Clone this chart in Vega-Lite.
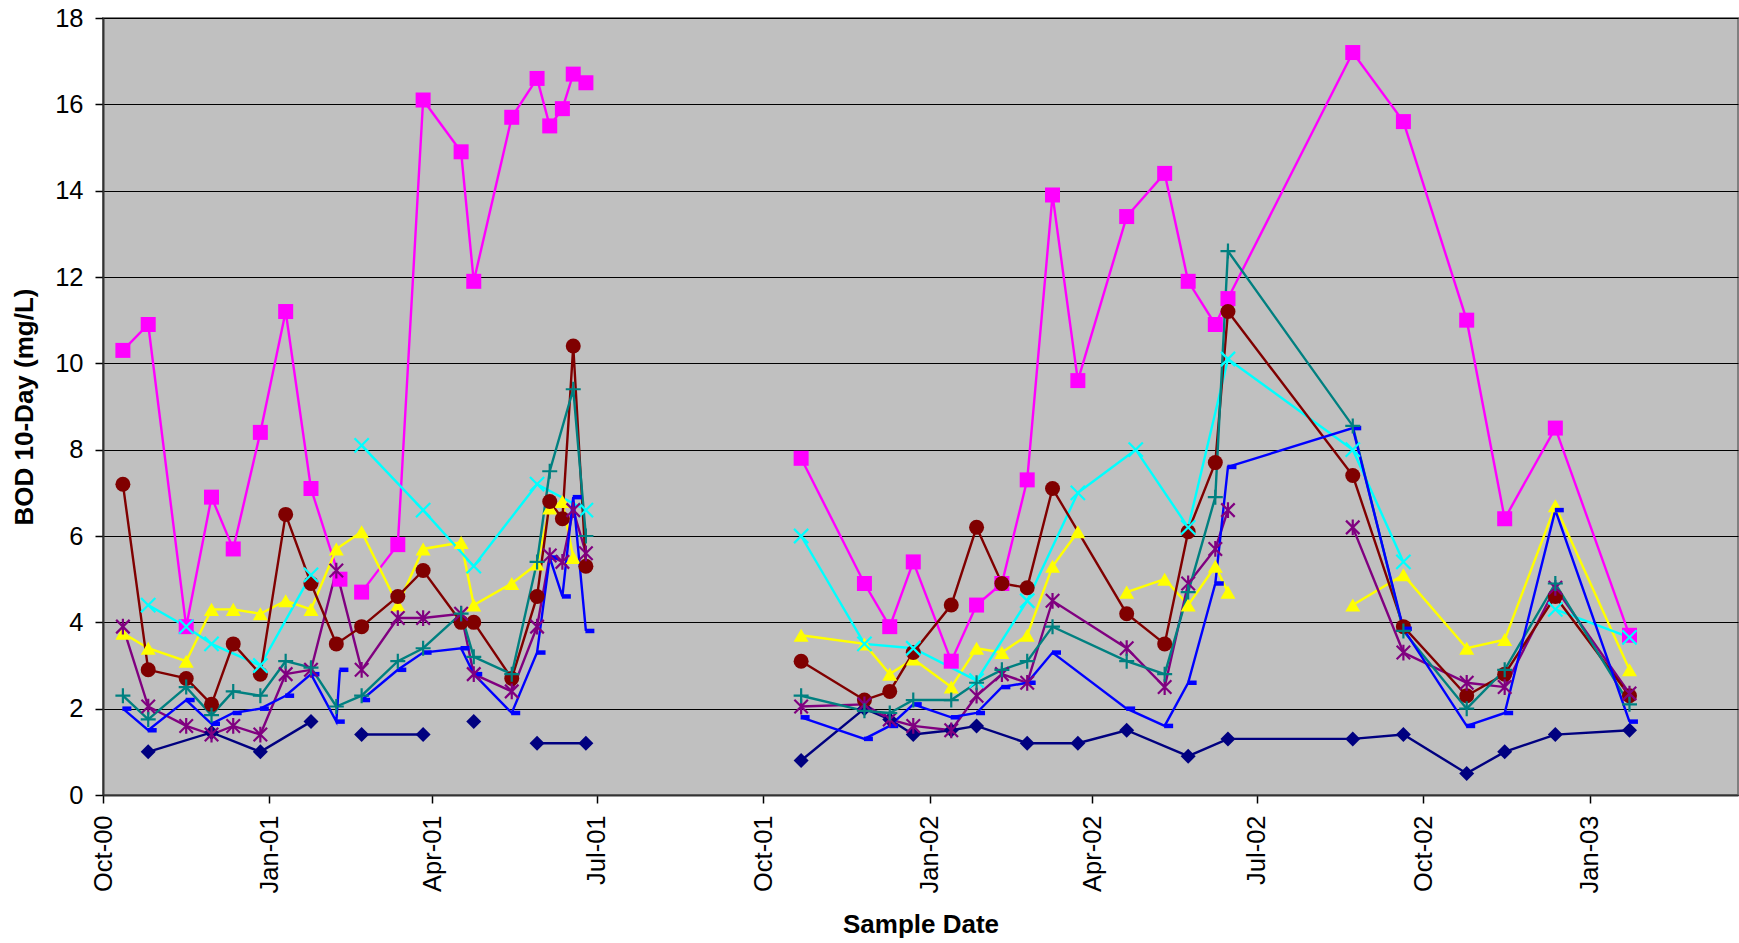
{
  "$schema": "https://vega.github.io/schema/vega-lite/v6.json",
  "width": 1635,
  "height": 777,
  "autosize": {"type": "none"},
  "padding": {"left": 103, "top": 18, "right": 1, "bottom": 148},
  "background": "white",
  "config": {
    "view": {"fill": "#C0C0C0", "stroke": "#808080", "strokeWidth": 2},
    "font": "Liberation Sans"
  },
  "data": {"values": [
    {"s":"S1","d":"2000-10-26","v":1.0},{"s":"S1","d":"2000-11-30","v":1.45},{"s":"S1","d":"2000-12-27","v":1.0},{"s":"S1","d":"2001-01-24","v":1.7},{"s":"S1","d":"2001-02-07","v":null},{"s":"S1","d":"2001-02-21","v":1.4},{"s":"S1","d":"2001-03-27","v":1.4},{"s":"S1","d":"2001-04-17","v":null},{"s":"S1","d":"2001-04-24","v":1.7},{"s":"S1","d":"2001-05-15","v":null},{"s":"S1","d":"2001-05-29","v":1.2},{"s":"S1","d":"2001-06-25","v":1.2},{"s":"S1","d":"2001-08-15","v":null},
    {"s":"S1","d":"2001-10-22","v":0.8},{"s":"S1","d":"2001-11-26","v":2.0},{"s":"S1","d":"2001-12-10","v":1.75},{"s":"S1","d":"2001-12-23","v":1.4},{"s":"S1","d":"2002-01-13","v":1.5},{"s":"S1","d":"2002-01-27","v":1.6},{"s":"S1","d":"2002-02-24","v":1.2},{"s":"S1","d":"2002-03-24","v":1.2},{"s":"S1","d":"2002-04-20","v":1.5},{"s":"S1","d":"2002-05-24","v":0.9},{"s":"S1","d":"2002-06-15","v":1.3},{"s":"S1","d":"2002-08-23","v":1.3},{"s":"S1","d":"2002-09-20","v":1.4},{"s":"S1","d":"2002-10-25","v":0.5},{"s":"S1","d":"2002-11-15","v":1.0},{"s":"S1","d":"2002-12-13","v":1.4},{"s":"S1","d":"2003-01-23","v":1.5},

    {"s":"S2","d":"2000-10-12","v":10.3},{"s":"S2","d":"2000-10-26","v":10.9},{"s":"S2","d":"2000-11-16","v":3.9},{"s":"S2","d":"2000-11-30","v":6.9},{"s":"S2","d":"2000-12-12","v":5.7},{"s":"S2","d":"2000-12-27","v":8.4},{"s":"S2","d":"2001-01-10","v":11.2},{"s":"S2","d":"2001-01-24","v":7.1},{"s":"S2","d":"2001-02-09","v":5.0},{"s":"S2","d":"2001-02-14","v":null},{"s":"S2","d":"2001-02-21","v":4.7},{"s":"S2","d":"2001-03-13","v":5.8},{"s":"S2","d":"2001-03-27","v":16.1},{"s":"S2","d":"2001-04-17","v":14.9},{"s":"S2","d":"2001-04-24","v":11.9},{"s":"S2","d":"2001-05-15","v":15.7},{"s":"S2","d":"2001-05-29","v":16.6},{"s":"S2","d":"2001-06-05","v":15.5},{"s":"S2","d":"2001-06-12","v":15.9},{"s":"S2","d":"2001-06-18","v":16.7},{"s":"S2","d":"2001-06-25","v":16.5},{"s":"S2","d":"2001-08-15","v":null},
    {"s":"S2","d":"2001-10-22","v":7.8},{"s":"S2","d":"2001-11-26","v":4.9},{"s":"S2","d":"2001-12-10","v":3.9},{"s":"S2","d":"2001-12-23","v":5.4},{"s":"S2","d":"2002-01-13","v":3.1},{"s":"S2","d":"2002-01-27","v":4.4},{"s":"S2","d":"2002-02-10","v":4.9},{"s":"S2","d":"2002-02-24","v":7.3},{"s":"S2","d":"2002-03-10","v":13.9},{"s":"S2","d":"2002-03-24","v":9.6},{"s":"S2","d":"2002-04-20","v":13.4},{"s":"S2","d":"2002-05-11","v":14.4},{"s":"S2","d":"2002-05-24","v":11.9},{"s":"S2","d":"2002-06-08","v":10.9},{"s":"S2","d":"2002-06-15","v":11.5},{"s":"S2","d":"2002-08-23","v":17.2},{"s":"S2","d":"2002-09-20","v":15.6},{"s":"S2","d":"2002-10-25","v":11.0},{"s":"S2","d":"2002-11-15","v":6.4},{"s":"S2","d":"2002-12-13","v":8.5},{"s":"S2","d":"2003-01-23","v":3.7},

    {"s":"S3","d":"2000-10-12","v":3.75},{"s":"S3","d":"2000-10-26","v":3.4},{"s":"S3","d":"2000-11-16","v":3.1},{"s":"S3","d":"2000-11-30","v":4.3},{"s":"S3","d":"2000-12-12","v":4.3},{"s":"S3","d":"2000-12-27","v":4.2},{"s":"S3","d":"2001-01-10","v":4.5},{"s":"S3","d":"2001-01-24","v":4.3},{"s":"S3","d":"2001-02-07","v":5.7},{"s":"S3","d":"2001-02-21","v":6.1},{"s":"S3","d":"2001-03-13","v":4.4},{"s":"S3","d":"2001-03-27","v":5.7},{"s":"S3","d":"2001-04-17","v":5.85},{"s":"S3","d":"2001-04-24","v":4.4},{"s":"S3","d":"2001-05-15","v":4.9},{"s":"S3","d":"2001-05-29","v":5.35},{"s":"S3","d":"2001-06-05","v":6.65},{"s":"S3","d":"2001-06-12","v":6.8},{"s":"S3","d":"2001-06-18","v":5.5},{"s":"S3","d":"2001-08-15","v":null},
    {"s":"S3","d":"2001-10-22","v":3.7},{"s":"S3","d":"2001-11-26","v":3.5},{"s":"S3","d":"2001-12-10","v":2.8},{"s":"S3","d":"2001-12-23","v":3.15},{"s":"S3","d":"2002-01-13","v":2.5},{"s":"S3","d":"2002-01-27","v":3.4},{"s":"S3","d":"2002-02-10","v":3.3},{"s":"S3","d":"2002-02-24","v":3.7},{"s":"S3","d":"2002-03-10","v":5.3},{"s":"S3","d":"2002-03-24","v":6.1},{"s":"S3","d":"2002-04-05","v":null},{"s":"S3","d":"2002-04-20","v":4.7},{"s":"S3","d":"2002-05-11","v":5.0},{"s":"S3","d":"2002-05-24","v":4.4},{"s":"S3","d":"2002-06-08","v":5.3},{"s":"S3","d":"2002-06-15","v":4.7},{"s":"S3","d":"2002-07-20","v":null},{"s":"S3","d":"2002-08-23","v":4.4},{"s":"S3","d":"2002-09-20","v":5.1},{"s":"S3","d":"2002-10-25","v":3.4},{"s":"S3","d":"2002-11-15","v":3.6},{"s":"S3","d":"2002-12-13","v":6.7},{"s":"S3","d":"2003-01-23","v":2.9},

    {"s":"S4","d":"2000-10-26","v":4.4},{"s":"S4","d":"2000-11-16","v":3.9},{"s":"S4","d":"2000-11-30","v":3.5},{"s":"S4","d":"2000-12-27","v":3.0},{"s":"S4","d":"2001-01-24","v":5.1},{"s":"S4","d":"2001-02-07","v":null},{"s":"S4","d":"2001-02-21","v":8.1},{"s":"S4","d":"2001-03-27","v":6.6},{"s":"S4","d":"2001-04-24","v":5.3},{"s":"S4","d":"2001-05-29","v":7.2},{"s":"S4","d":"2001-06-25","v":6.6},{"s":"S4","d":"2001-08-15","v":null},
    {"s":"S4","d":"2001-10-22","v":6.0},{"s":"S4","d":"2001-11-26","v":3.5},{"s":"S4","d":"2001-12-23","v":3.4},{"s":"S4","d":"2002-01-27","v":2.65},{"s":"S4","d":"2002-02-24","v":4.5},{"s":"S4","d":"2002-03-24","v":7.0},{"s":"S4","d":"2002-04-25","v":8.0},{"s":"S4","d":"2002-05-24","v":6.2},{"s":"S4","d":"2002-06-15","v":10.1},{"s":"S4","d":"2002-08-23","v":8.0},{"s":"S4","d":"2002-09-20","v":5.4},{"s":"S4","d":"2002-10-25","v":null},{"s":"S4","d":"2002-12-13","v":4.3},{"s":"S4","d":"2003-01-23","v":3.65},

    {"s":"S5","d":"2000-10-12","v":3.9},{"s":"S5","d":"2000-10-26","v":2.05},{"s":"S5","d":"2000-11-16","v":1.6},{"s":"S5","d":"2000-11-30","v":1.4},{"s":"S5","d":"2000-12-12","v":1.6},{"s":"S5","d":"2000-12-27","v":1.4},{"s":"S5","d":"2001-01-10","v":2.8},{"s":"S5","d":"2001-01-24","v":2.9},{"s":"S5","d":"2001-02-07","v":5.2},{"s":"S5","d":"2001-02-21","v":2.9},{"s":"S5","d":"2001-03-13","v":4.1},{"s":"S5","d":"2001-03-27","v":4.1},{"s":"S5","d":"2001-04-17","v":4.2},{"s":"S5","d":"2001-04-24","v":2.8},{"s":"S5","d":"2001-05-15","v":2.4},{"s":"S5","d":"2001-05-29","v":3.9},{"s":"S5","d":"2001-06-05","v":5.55},{"s":"S5","d":"2001-06-12","v":5.4},{"s":"S5","d":"2001-06-18","v":6.6},{"s":"S5","d":"2001-06-25","v":5.6},{"s":"S5","d":"2001-08-15","v":null},
    {"s":"S5","d":"2001-10-22","v":2.05},{"s":"S5","d":"2001-11-26","v":2.1},{"s":"S5","d":"2001-12-10","v":1.75},{"s":"S5","d":"2001-12-23","v":1.6},{"s":"S5","d":"2002-01-13","v":1.5},{"s":"S5","d":"2002-01-27","v":2.3},{"s":"S5","d":"2002-02-10","v":2.8},{"s":"S5","d":"2002-02-24","v":2.6},{"s":"S5","d":"2002-03-10","v":4.5},{"s":"S5","d":"2002-04-20","v":3.4},{"s":"S5","d":"2002-05-11","v":2.5},{"s":"S5","d":"2002-05-24","v":4.9},{"s":"S5","d":"2002-06-08","v":5.7},{"s":"S5","d":"2002-06-15","v":6.6},{"s":"S5","d":"2002-07-20","v":null},{"s":"S5","d":"2002-08-23","v":6.2},{"s":"S5","d":"2002-09-20","v":3.3},{"s":"S5","d":"2002-10-25","v":2.6},{"s":"S5","d":"2002-11-15","v":2.5},{"s":"S5","d":"2002-12-13","v":4.8},{"s":"S5","d":"2003-01-23","v":2.35},

    {"s":"S6","d":"2000-10-12","v":7.2},{"s":"S6","d":"2000-10-26","v":2.9},{"s":"S6","d":"2000-11-16","v":2.7},{"s":"S6","d":"2000-11-30","v":2.1},{"s":"S6","d":"2000-12-12","v":3.5},{"s":"S6","d":"2000-12-27","v":2.8},{"s":"S6","d":"2001-01-10","v":6.5},{"s":"S6","d":"2001-01-24","v":4.9},{"s":"S6","d":"2001-02-07","v":3.5},{"s":"S6","d":"2001-02-21","v":3.9},{"s":"S6","d":"2001-03-13","v":4.6},{"s":"S6","d":"2001-03-27","v":5.2},{"s":"S6","d":"2001-04-17","v":4.0},{"s":"S6","d":"2001-04-24","v":4.0},{"s":"S6","d":"2001-05-15","v":2.7},{"s":"S6","d":"2001-05-29","v":4.6},{"s":"S6","d":"2001-06-05","v":6.8},{"s":"S6","d":"2001-06-12","v":6.4},{"s":"S6","d":"2001-06-18","v":10.4},{"s":"S6","d":"2001-06-25","v":5.3},{"s":"S6","d":"2001-08-15","v":null},
    {"s":"S6","d":"2001-10-22","v":3.1},{"s":"S6","d":"2001-11-26","v":2.2},{"s":"S6","d":"2001-12-10","v":2.4},{"s":"S6","d":"2001-12-23","v":3.3},{"s":"S6","d":"2002-01-13","v":4.4},{"s":"S6","d":"2002-01-27","v":6.2},{"s":"S6","d":"2002-02-10","v":4.9},{"s":"S6","d":"2002-02-24","v":4.8},{"s":"S6","d":"2002-03-10","v":7.1},{"s":"S6","d":"2002-04-20","v":4.2},{"s":"S6","d":"2002-05-11","v":3.5},{"s":"S6","d":"2002-05-24","v":6.1},{"s":"S6","d":"2002-06-08","v":7.7},{"s":"S6","d":"2002-06-15","v":11.2},{"s":"S6","d":"2002-08-23","v":7.4},{"s":"S6","d":"2002-09-20","v":3.9},{"s":"S6","d":"2002-10-25","v":2.3},{"s":"S6","d":"2002-11-15","v":2.8},{"s":"S6","d":"2002-12-13","v":4.6},{"s":"S6","d":"2003-01-23","v":2.3},

    {"s":"S7","d":"2000-10-12","v":2.3},{"s":"S7","d":"2000-10-26","v":1.75},{"s":"S7","d":"2000-11-16","v":2.5},{"s":"S7","d":"2000-11-30","v":1.85},{"s":"S7","d":"2000-12-12","v":2.4},{"s":"S7","d":"2000-12-27","v":2.3},{"s":"S7","d":"2001-01-10","v":3.1},{"s":"S7","d":"2001-01-24","v":2.95},{"s":"S7","d":"2001-02-07","v":2.05},{"s":"S7","d":"2001-02-21","v":2.3},{"s":"S7","d":"2001-03-13","v":3.1},{"s":"S7","d":"2001-03-27","v":3.4},{"s":"S7","d":"2001-04-17","v":4.2},{"s":"S7","d":"2001-04-24","v":3.2},{"s":"S7","d":"2001-05-15","v":2.8},{"s":"S7","d":"2001-05-29","v":5.4},{"s":"S7","d":"2001-06-05","v":7.5},{"s":"S7","d":"2001-06-18","v":9.4},{"s":"S7","d":"2001-06-25","v":6.0},{"s":"S7","d":"2001-08-15","v":null},
    {"s":"S7","d":"2001-10-22","v":2.3},{"s":"S7","d":"2001-11-26","v":1.95},{"s":"S7","d":"2001-12-10","v":1.9},{"s":"S7","d":"2001-12-23","v":2.2},{"s":"S7","d":"2002-01-13","v":2.2},{"s":"S7","d":"2002-01-27","v":2.6},{"s":"S7","d":"2002-02-10","v":2.9},{"s":"S7","d":"2002-02-24","v":3.1},{"s":"S7","d":"2002-03-10","v":3.9},{"s":"S7","d":"2002-04-20","v":3.1},{"s":"S7","d":"2002-05-11","v":2.8},{"s":"S7","d":"2002-05-24","v":4.7},{"s":"S7","d":"2002-06-08","v":6.9},{"s":"S7","d":"2002-06-15","v":12.6},{"s":"S7","d":"2002-08-23","v":8.55},{"s":"S7","d":"2002-09-20","v":3.8},{"s":"S7","d":"2002-10-25","v":2.0},{"s":"S7","d":"2002-11-15","v":2.9},{"s":"S7","d":"2002-12-13","v":4.9},{"s":"S7","d":"2003-01-23","v":2.1},

    {"s":"S8","d":"2000-10-12","v":2.0},{"s":"S8","d":"2000-10-26","v":1.5},{"s":"S8","d":"2000-11-16","v":2.2},{"s":"S8","d":"2000-11-30","v":1.65},{"s":"S8","d":"2000-12-12","v":1.9},{"s":"S8","d":"2000-12-27","v":2.0},{"s":"S8","d":"2001-01-10","v":2.3},{"s":"S8","d":"2001-01-24","v":2.8},{"s":"S8","d":"2001-02-07","v":1.7},{"s":"S8","d":"2001-02-09","v":2.9},{"s":"S8","d":"2001-02-14","v":null},{"s":"S8","d":"2001-02-21","v":2.2},{"s":"S8","d":"2001-03-13","v":2.9},{"s":"S8","d":"2001-03-27","v":3.3},{"s":"S8","d":"2001-04-17","v":3.4},{"s":"S8","d":"2001-04-24","v":2.8},{"s":"S8","d":"2001-05-15","v":1.9},{"s":"S8","d":"2001-05-29","v":3.3},{"s":"S8","d":"2001-06-05","v":5.5},{"s":"S8","d":"2001-06-12","v":4.6},{"s":"S8","d":"2001-06-18","v":6.9},{"s":"S8","d":"2001-06-25","v":3.8},{"s":"S8","d":"2001-08-15","v":null},
    {"s":"S8","d":"2001-10-22","v":1.8},{"s":"S8","d":"2001-11-26","v":1.3},{"s":"S8","d":"2001-12-10","v":1.6},{"s":"S8","d":"2001-12-23","v":2.1},{"s":"S8","d":"2002-01-13","v":1.8},{"s":"S8","d":"2002-01-27","v":1.9},{"s":"S8","d":"2002-02-10","v":2.5},{"s":"S8","d":"2002-02-24","v":2.6},{"s":"S8","d":"2002-03-10","v":3.3},{"s":"S8","d":"2002-04-20","v":2.0},{"s":"S8","d":"2002-05-11","v":1.6},{"s":"S8","d":"2002-05-24","v":2.6},{"s":"S8","d":"2002-06-08","v":4.9},{"s":"S8","d":"2002-06-15","v":7.6},{"s":"S8","d":"2002-08-23","v":8.5},{"s":"S8","d":"2002-09-20","v":3.85},{"s":"S8","d":"2002-10-25","v":1.6},{"s":"S8","d":"2002-11-15","v":1.9},{"s":"S8","d":"2002-12-13","v":6.6},{"s":"S8","d":"2003-01-23","v":1.7}
  ]},
  "encoding": {
    "x": {
      "field": "d", "type": "temporal",
      "scale": {"type": "utc", "nice": false, "domain": [{"year": 2000, "month": 10, "date": 1, "utc": true}, {"year": 2003, "month": 3, "date": 24, "utc": true}]},
      "axis": {
        "values": [
          {"year": 2000, "month": 10, "date": 1, "utc": true},
          {"year": 2001, "month": 1, "date": 1, "utc": true},
          {"year": 2001, "month": 4, "date": 1, "utc": true},
          {"year": 2001, "month": 7, "date": 1, "utc": true},
          {"year": 2001, "month": 10, "date": 1, "utc": true},
          {"year": 2002, "month": 1, "date": 1, "utc": true},
          {"year": 2002, "month": 4, "date": 1, "utc": true},
          {"year": 2002, "month": 7, "date": 1, "utc": true},
          {"year": 2002, "month": 10, "date": 1, "utc": true},
          {"year": 2003, "month": 1, "date": 1, "utc": true}
        ],
        "labelExpr": "utcFormat(datum.value, '%b-%y')",
        "labelAngle": -90, "labelFontSize": 25.5, "labelColor": "#000", "labelFont": "Liberation Sans",
        "labelPadding": 12, "labelFlush": false, "labelOverlap": false, "labelBound": false,
        "tickSize": 8, "tickColor": "#000", "tickWidth": 1.5,
        "domainColor": "#333", "domainWidth": 2,
        "grid": false,
        "title": "Sample Date", "titleFont": "Liberation Sans", "titleFontSize": 26, "titleFontWeight": "bold", "titleColor": "#000",
        "titleX": 817.5, "titleY": 137, "titleBaseline": "alphabetic", "titleAlign": "center"
      }
    },
    "y": {
      "field": "v", "type": "quantitative",
      "scale": {"domain": [0, 18], "nice": false, "zero": true},
      "axis": {
        "values": [0, 2, 4, 6, 8, 10, 12, 14, 16, 18],
        "labelFontSize": 25.5, "labelColor": "#000", "labelFont": "Liberation Sans", "labelPadding": 12,
        "tickSize": 8, "tickColor": "#000", "tickWidth": 1.5,
        "domainColor": "#333", "domainWidth": 2,
        "grid": true, "gridColor": "#000", "gridWidth": 1,
        "title": "BOD 10-Day (mg/L)", "titleFont": "Liberation Sans", "titleFontSize": 26, "titleFontWeight": "bold", "titleColor": "#000",
        "titleAngle": 270, "titleX": -79, "titleY": 388.5, "titleBaseline": "middle", "titleAlign": "center"
      }
    },
    "color": {
      "field": "s", "type": "nominal",
      "scale": {"domain": ["S1","S2","S3","S4","S5","S6","S7","S8"], "range": ["#000080","#FF00FF","#FFFF00","#00FFFF","#800080","#800000","#008080","#0000FF"]},
      "legend": null
    }
  },
  "layer": [
    {
      "mark": {"type": "line", "strokeWidth": 2.4, "invalid": "break-paths-filter-domains"}
    },
    {
      "transform": [{"filter": "datum.v != null"}, {"filter": {"field": "s", "oneOf": ["S1","S2","S3","S6","S8"]}}],
      "mark": {"type": "point", "filled": true, "opacity": 1, "size": 225},
      "encoding": {
        "shape": {
          "field": "s", "type": "nominal",
          "scale": {"domain": ["S1","S2","S3","S4","S5","S6","S7","S8"], "range": [
            "M0,-1L1,0L0,1L-1,0Z",
            "M-1,-1H1V1H-1Z",
            "M0,-0.87L1,0.87L-1,0.87Z",
            "M-0.95,-0.95L0.95,0.95M-0.95,0.95L0.95,-0.95",
            "M-0.9,-0.9L0.9,0.9M-0.9,0.9L0.9,-0.9M0,-1.05L0,1.05",
            "circle",
            "M-1,0H1M0,-1V1",
            "M-0.07,-0.3H1.13V0.3H-0.07Z"
          ]},
          "legend": null
        }
      }
    },
    {
      "transform": [{"filter": "datum.v != null"}, {"filter": {"field": "s", "oneOf": ["S4","S5","S7"]}}],
      "mark": {"type": "point", "filled": false, "opacity": 1, "size": 225, "strokeWidth": 2.2},
      "encoding": {
        "shape": {
          "field": "s", "type": "nominal",
          "scale": {"domain": ["S1","S2","S3","S4","S5","S6","S7","S8"], "range": [
            "M0,-1L1,0L0,1L-1,0Z",
            "M-1,-1H1V1H-1Z",
            "M0,-0.87L1,0.87L-1,0.87Z",
            "M-0.95,-0.95L0.95,0.95M-0.95,0.95L0.95,-0.95",
            "M-0.9,-0.9L0.9,0.9M-0.9,0.9L0.9,-0.9M0,-1.05L0,1.05",
            "circle",
            "M-1,0H1M0,-1V1",
            "M-0.07,-0.3H1.13V0.3H-0.07Z"
          ]},
          "legend": null
        }
      }
    }
  ]
}
